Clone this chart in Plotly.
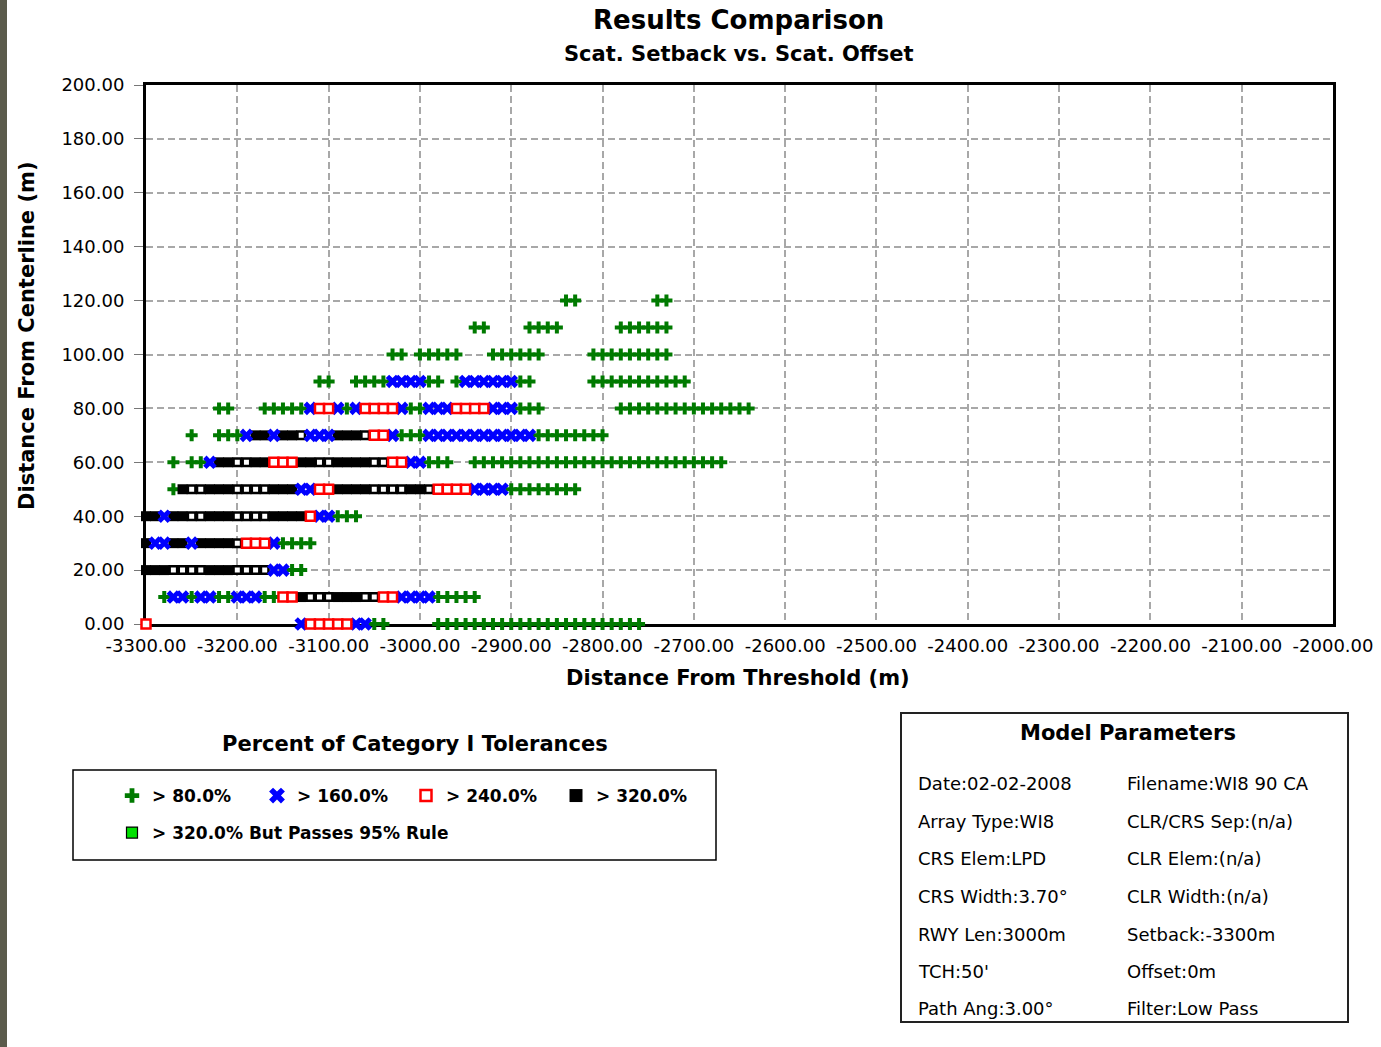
import plotly.graph_objects as go

# ---------------------------------------------------------------------------
# Scattering results: each point is a (setback, offset) position on the 10 m
# survey grid, coloured by the worst percentage of Category I tolerances.
# Rows are (offset from centerline [m], [distances from threshold [m]]).
# ---------------------------------------------------------------------------
green_rows = [  # > 80.0 %
    (120, [-2840, -2830, -2740, -2730]),
    (110, [-2940, -2930, -2880, -2870, -2860, -2850, -2780, -2770, -2760, -2750,
           -2740, -2730]),
    (100, [-3030, -3020, -3000, -2990, -2980, -2970, -2960, -2920, -2910, -2900,
           -2890, -2880, -2870, -2810, -2800, -2790, -2780, -2770, -2760, -2750,
           -2740, -2730]),
    (90, [-3110, -3100, -3070, -3060, -3050, -3040, -2990, -2980, -2960, -2890,
          -2880, -2810, -2800, -2790, -2780, -2770, -2760, -2750, -2740, -2730,
          -2720, -2710]),
    (80, [-3220, -3210, -3170, -3160, -3150, -3140, -3130, -3080, -3010, -3000,
          -2890, -2880, -2870, -2780, -2770, -2760, -2750, -2740, -2730, -2720,
          -2710, -2700, -2690, -2680, -2670, -2660, -2650, -2640]),
    (70, [-3250, -3220, -3210, -3200, -3020, -3010, -3000, -2870, -2860, -2850,
          -2840, -2830, -2820, -2810, -2800]),
    (60, [-3270, -3250, -3240, -2990, -2980, -2970, -2940, -2930, -2920, -2910,
          -2900, -2890, -2880, -2870, -2860, -2850, -2840, -2830, -2820, -2810,
          -2800, -2790, -2780, -2770, -2760, -2750, -2740, -2730, -2720, -2710,
          -2700, -2690, -2680, -2670]),
    (50, [-3270, -2900, -2890, -2880, -2870, -2860, -2850, -2840, -2830]),
    (40, [-3090, -3080, -3070]),
    (30, [-3150, -3140, -3130, -3120]),
    (20, [-3140, -3130]),
    (10, [-3280, -3250, -3220, -3210, -3170, -3160, -2980, -2970, -2960, -2950,
          -2940]),
    (0, [-3050, -3040, -2980, -2970, -2960, -2950, -2940, -2930, -2920, -2910,
         -2900, -2890, -2880, -2870, -2860, -2850, -2840, -2830, -2820, -2810,
         -2800, -2790, -2780, -2770, -2760]),
]

blue_rows = [  # > 160.0 %
    (90, [-3030, -3020, -3010, -3000, -2950, -2940, -2930, -2920, -2910, -2900]),
    (80, [-3120, -3090, -3070, -3020, -2990, -2980, -2970, -2920, -2910, -2900]),
    (70, [-3190, -3160, -3120, -3110, -3100, -3030, -2990, -2980, -2970, -2960,
          -2950, -2940, -2930, -2920, -2910, -2900, -2890, -2880]),
    (60, [-3230, -3010, -3000]),
    (50, [-3130, -3120, -2940, -2930, -2920, -2910]),
    (40, [-3280, -3110, -3100]),
    (30, [-3290, -3280, -3250, -3160]),
    (20, [-3160, -3150]),
    (10, [-3270, -3260, -3240, -3230, -3200, -3190, -3180, -3020, -3010, -3000,
          -2990]),
    (0, [-3130, -3070, -3060]),
]

red_rows = [  # > 240.0 %
    (80, [-3110, -3100, -3060, -3050, -3040, -3030, -2960, -2950, -2940, -2930]),
    (70, [-3050, -3040]),
    (60, [-3160, -3150, -3140, -3030, -3020]),
    (50, [-3110, -3100, -2980, -2970, -2960, -2950]),
    (40, [-3120]),
    (30, [-3190, -3180, -3170]),
    (10, [-3150, -3140, -3040, -3030]),
    (0, [-3300, -3120, -3110, -3100, -3090, -3080]),
]

black_rows = [  # > 320.0 %
    (70, [-3180, -3170, -3150, -3140, -3090, -3080, -3070]),
    (60, [-3220, -3210, -3180, -3170, -3130, -3120, -3090, -3080, -3070, -3060]),
    (50, [-3260, -3230, -3220, -3210, -3160, -3150, -3140, -3090, -3080, -3070,
          -3060, -3010, -3000]),
    (40, [-3300, -3290, -3270, -3260, -3230, -3220, -3210, -3160, -3150, -3140,
          -3130]),
    (30, [-3300, -3270, -3260, -3240, -3230, -3220, -3210]),
    (20, [-3300, -3290, -3280, -3230, -3220, -3210]),
    (10, [-3130, -3090, -3080, -3070]),
]

# > 320.0 % points inside the bands that are drawn with an open centre
black_open_rows = [
    (70, [-3130, -3060]),
    (60, [-3200, -3190, -3110, -3100, -3050, -3040]),
    (50, [-3250, -3240, -3200, -3190, -3180, -3170, -3050, -3040, -3030, -3020,
          -2990]),
    (40, [-3250, -3240, -3200, -3190, -3180, -3170]),
    (30, [-3200]),
    (20, [-3270, -3260, -3250, -3240, -3200, -3190, -3180, -3170]),
    (10, [-3120, -3110, -3100, -3060, -3050]),
]

x_ticks = [-3300, -3200, -3100, -3000, -2900, -2800, -2700, -2600, -2500,
           -2400, -2300, -2200, -2100, -2000]
x_tick_labels = ["-3300.00", "-3200.00", "-3100.00", "-3000.00", "-2900.00",
                 "-2800.00", "-2700.00", "-2600.00", "-2500.00", "-2400.00",
                 "-2300.00", "-2200.00", "-2100.00", "-2000.00"]
y_ticks = [0, 20, 40, 60, 80, 100, 120, 140, 160, 180, 200]
y_tick_labels = ["0.00", "20.00", "40.00", "60.00", "80.00", "100.00",
                 "120.00", "140.00", "160.00", "180.00", "200.00"]

legend_labels = ["> 80.0%", "> 160.0%", "> 240.0%", "> 320.0%",
                 "> 320.0% But Passes 95% Rule"]

model_params_left = ["Date:02-02-2008", "Array Type:WI8", "CRS Elem:LPD",
                     "CRS Width:3.70\u00b0", "RWY Len:3000m", "TCH:50'",
                     "Path Ang:3.00\u00b0"]
model_params_right = ["Filename:WI8 90 CA", "CLR/CRS Sep:(n/a)",
                      "CLR Elem:(n/a)", "CLR Width:(n/a)", "Setback:-3300m",
                      "Offset:0m", "Filter:Low Pass"]

# ---------------------------------------------------------------------------
FIG_W, FIG_H = 1381, 1047
PLOT_L, PLOT_R, PLOT_T, PLOT_B = 146, 1333, 85, 624
FONT = "DejaVu Sans"


def px_x(px):
    """Horizontal pixel of the page -> paper coordinate."""
    return (px - PLOT_L) / (PLOT_R - PLOT_L)


def px_y(py):
    """Vertical pixel of the page -> paper coordinate."""
    return (PLOT_B - py) / (PLOT_B - PLOT_T)


def flatten(rows):
    xs, ys = [], []
    for y, row in rows:
        xs.extend(row)
        ys.extend([y] * len(row))
    return xs, ys


GREEN = "#007a00"
BLUE = "#0000ff"
RED = "#ff0000"

fig = go.Figure()


def add_points(rows, name, marker):
    xs, ys = flatten(rows)
    fig.add_trace(go.Scatter(x=xs, y=ys, mode="markers", name=name,
                             marker=marker, showlegend=False,
                             cliponaxis=False, hoverinfo="x+y+name"))


add_points(green_rows, legend_labels[0],
           dict(symbol="cross", size=10, color=GREEN, line=dict(width=0)))
add_points(black_rows, legend_labels[3],
           dict(symbol="square", size=10, color="black", line=dict(width=0)))
add_points(black_open_rows, legend_labels[3],
           dict(symbol="square", size=7.5, color="white",
                line=dict(width=2.5, color="black")))
add_points(blue_rows, legend_labels[1],
           dict(symbol="x", size=12, color=BLUE, line=dict(width=0)))
add_points(red_rows, legend_labels[2],
           dict(symbol="square", size=9, color="white",
                line=dict(width=2.5, color=RED)))

# Legend entries (one legend box per entry so they line up in a grid)
legend_markers = [
    dict(symbol="cross", size=12, color=GREEN, line=dict(width=0)),
    dict(symbol="x", size=14, color=BLUE, line=dict(width=0)),
    dict(symbol="square", size=11, color="white", line=dict(width=2.5, color=RED)),
    dict(symbol="square", size=13, color="black", line=dict(width=0)),
    dict(symbol="square", size=11, color="#00e000", line=dict(width=1.2, color="black")),
]
legend_ids = ["legend", "legend2", "legend3", "legend4", "legend5"]
legend_text_px = [(152, 796), (297, 796), (446, 796), (596, 796), (152, 833)]

for lab, mk, lid in zip(legend_labels, legend_markers, legend_ids):
    fig.add_trace(go.Scatter(x=[None], y=[None], mode="markers", name=lab,
                             marker=mk, legend=lid, showlegend=True))

legend_layouts = {}
for lid, (tx, ty) in zip(legend_ids, legend_text_px):
    legend_layouts[lid] = dict(
        x=px_x(tx - 40), y=px_y(ty), xanchor="left", yanchor="middle",
        orientation="h", bgcolor="rgba(0,0,0,0)", borderwidth=0,
        font=dict(family=FONT, size=17, color="black", weight="bold"),
        itemclick=False, itemdoubleclick=False,
    )

axis_common = dict(
    showgrid=True, gridcolor="#a8a8a8", gridwidth=1.5, griddash="7px,4px",
    showline=True, mirror=True, linecolor="black", linewidth=3,
    zeroline=False, layer="below traces",
    tickfont=dict(family=FONT, size=18, color="black"),
)

fig.update_layout(
    width=FIG_W, height=FIG_H,
    margin=dict(l=PLOT_L, r=FIG_W - PLOT_R, t=PLOT_T, b=FIG_H - PLOT_B,
                autoexpand=False),
    paper_bgcolor="white", plot_bgcolor="white",
    font=dict(family=FONT, size=18, color="black"),
    xaxis=dict(range=[-3300, -2000], tickmode="array", tickvals=x_ticks,
               ticktext=x_tick_labels, ticks="", ticklabelstandoff=3,
               **axis_common),
    yaxis=dict(range=[0, 200], tickmode="array", tickvals=y_ticks,
               ticktext=y_tick_labels, ticks="outside", ticklen=9,
               tickcolor="#777777", tickwidth=1, ticklabelstandoff=6,
               **axis_common),
    **legend_layouts,
)

annotations = [
    dict(text="Results Comparison", x=px_x(738), y=px_y(20),
         font=dict(family=FONT, size=26, weight="bold")),
    dict(text="Scat. Setback vs. Scat. Offset", x=px_x(739), y=px_y(54),
         font=dict(family=FONT, size=21, weight="bold")),
    dict(text="Distance From Threshold (m)", x=px_x(738), y=px_y(678),
         font=dict(family=FONT, size=21, weight="bold")),
    dict(text="Distance From Centerline (m)", x=px_x(27), y=px_y(336),
         textangle=-90, font=dict(family=FONT, size=21, weight="bold")),
    dict(text="Percent of Category I Tolerances", x=px_x(415), y=px_y(744),
         font=dict(family=FONT, size=21, weight="bold")),
    dict(text="Model Parameters", x=px_x(1128), y=px_y(733),
         font=dict(family=FONT, size=21, weight="bold")),
]
param_rows_py = [783, 821, 858, 896, 934, 971, 1008]
for left, right, py in zip(model_params_left, model_params_right, param_rows_py):
    annotations.append(dict(text=left, x=px_x(916), y=px_y(py), xanchor="left",
                            font=dict(family=FONT, size=18)))
    annotations.append(dict(text=right, x=px_x(1125), y=px_y(py), xanchor="left",
                            font=dict(family=FONT, size=18)))
for a in annotations:
    a.setdefault("xanchor", "center")
    a.update(xref="paper", yref="paper", yanchor="middle", showarrow=False)
    a["font"].setdefault("color", "black")
fig.update_layout(annotations=annotations)

shapes = [
    # legend frame
    dict(type="rect", x0=px_x(73), x1=px_x(716), y0=px_y(860), y1=px_y(770),
         line=dict(color="black", width=1.5)),
    # model parameters frame
    dict(type="rect", x0=px_x(901), x1=px_x(1348), y0=px_y(1022), y1=px_y(713),
         line=dict(color="#222222", width=2)),
    # dark page edge on the left
    dict(type="rect", x0=px_x(0), x1=px_x(7), y0=px_y(FIG_H), y1=px_y(0),
         fillcolor="#5b5b4c", line=dict(width=0)),
]
for s in shapes:
    s.update(xref="paper", yref="paper", layer="above")
fig.update_layout(shapes=shapes)

fig.write_html("out.html")
